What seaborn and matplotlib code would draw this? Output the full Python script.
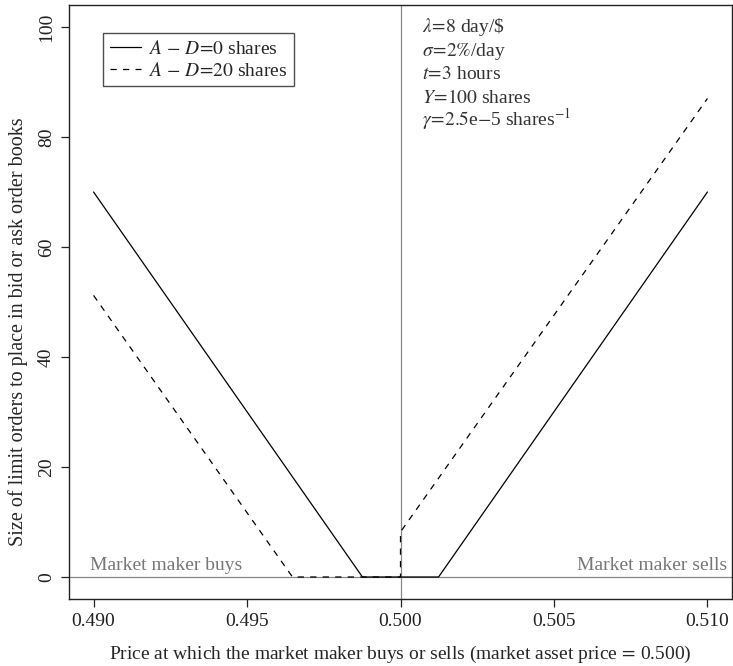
import matplotlib
matplotlib.use('Agg')
import matplotlib.pyplot as plt
import numpy as np
import pandas as pd
import seaborn as sns

sns.set_theme(style='ticks')
plt.rcParams['font.family'] = ['Liberation Serif', 'DejaVu Serif']
plt.rcParams['mathtext.fontset'] = 'stix'

# values
price_a0 = [0.490, 0.49876, 0.50124, 0.510]
size_a0 = [70, 0, 0, 70]
price_a20 = [0.490, 0.49648, 0.500, 0.500, 0.510]
size_a20 = [51.2, 0, 0, 8.2, 87]
series_names = [r'$A\,-\,D\!=\!0$ shares', r'$A\,-\,D\!=\!20$ shares']
x_ticks = [0.490, 0.495, 0.500, 0.505, 0.510]
y_ticks = [0, 20, 40, 60, 80, 100]
params = [r'$\lambda\!=\!8$ day/\$', r'$\sigma\!=\!2\%$/day', r'$t\!=\!3$ hours',
          r'$Y\!=\!100$ shares', r'$\gamma\!=\!2.5$e$-$5 shares$^{-1}$']

df = pd.concat([
    pd.DataFrame({'price': price_a0, 'size': size_a0, 'series': series_names[0]}),
    pd.DataFrame({'price': price_a20, 'size': size_a20, 'series': series_names[1]}),
], ignore_index=True)

fig = plt.figure(figsize=(7.33, 6.66), dpi=100)
ax = fig.add_axes([69 / 733, 1 - 599 / 666, 663 / 733, 594 / 666])

ax.axhline(0, color='#888888', lw=0.9, zorder=1)
ax.axvline(0.500, color='#888888', lw=0.9, zorder=1)

sns.lineplot(
    data=df, x='price', y='size', hue='series', style='series',
    palette=['black', 'black'], dashes={series_names[0]: '', series_names[1]: (5, 5)},
    sort=False, estimator=None, lw=0.9, ax=ax, zorder=3,
)

ax.set_xlim(0.4892, 0.5108)
ax.set_ylim(-4, 104)
ax.set_xticks(x_ticks)
ax.set_xticklabels(['%.3f' % v for v in x_ticks])
ax.set_yticks(y_ticks)
ax.set_yticklabels([str(v) for v in y_ticks], rotation=90, va='center')
ax.tick_params(direction='out', length=6, width=0.9, labelsize=14, colors='#222222', pad=4)
for s in ax.spines.values():
    s.set_linewidth(1.0)
    s.set_color('#222222')

ax.set_xlabel('Price at which the market maker buys or sells (market asset price$\\,=\\,$0.500)',
              fontsize=14, labelpad=10)
ax.set_ylabel('Size of limit orders to place in bid or ask order books', fontsize=14.5)
ax.yaxis.set_label_coords(-0.062, 0.45)

ax.text(0.48987, 1.3, 'Market maker buys', color='#777777', fontsize=14, ha='left', va='baseline')
ax.text(0.51065, 1.3, 'Market maker sells', color='#777777', fontsize=14, ha='right', va='baseline')

for i, t in enumerate(params):
    ax.text(0.5007, 99.0 - i * 4.25, t, fontsize=14, color='#333333', ha='left', va='baseline')

leg = ax.legend(loc='upper left', bbox_to_anchor=(0.0513, 0.953), borderaxespad=0,
                fontsize=14, frameon=True, fancybox=False, edgecolor='#222222',
                handlelength=1.6, borderpad=0.35, labelspacing=0.2, handletextpad=0.35,
                title=None)
leg.get_frame().set_linewidth(1.0)

fig.savefig('out.png', dpi=100)
